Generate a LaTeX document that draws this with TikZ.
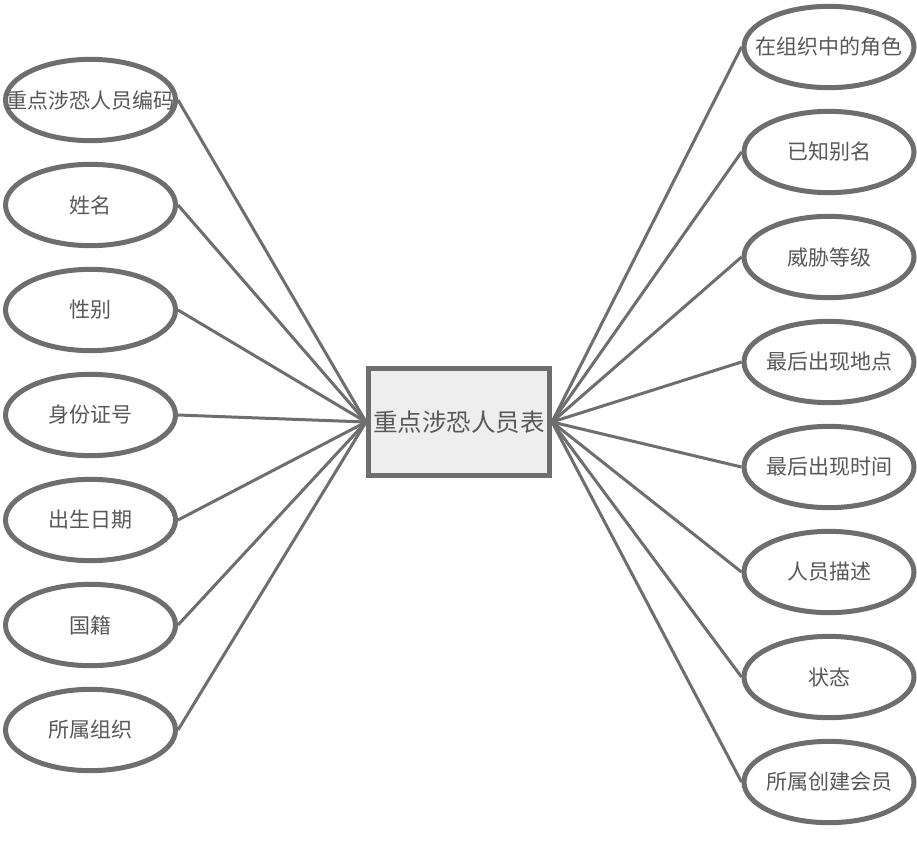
\documentclass[tikz,border=0pt]{standalone}
\usepackage{fontspec}
\setmainfont{Noto Sans CJK SC}
\usepackage{tikz}
\usetikzlibrary{
  calc,
  positioning,
  shapes,
  shapes.geometric,
}
\tikzstyle{attr} = [
  draw=edgegray,
  ellipse,
  line width=3.75pt,
  minimum width=127.5pt,
  minimum height=61pt,
  inner sep=0pt,
  fill=white,
  font=\fontsize{15.75pt}{18pt}\selectfont,
  text=textgray,
]
\tikzstyle{link} = [
  line width=2.25pt,
  edgegray,
]
\definecolor{edgegray}{RGB}{110, 110, 110}
\definecolor{textgray}{RGB}{88, 88, 88}
\definecolor{boxfill}{RGB}{238, 238, 238}

\begin{document}
\begin{tikzpicture}[x=0.75pt,y=-0.75pt]
        \useasboundingbox (0,0) rectangle (917,846);
        \node[draw=edgegray,rectangle,line width=3.75pt,minimum width=135.75pt,minimum height=80.25pt,fill=boxfill,text=textgray,font=\fontsize{18.4pt}{21pt}\selectfont]    (tbl) at (459,422)    {重点涉恐人员表};

        \node[attr]    (l1) at (90.5,100)    {\makebox[0pt]{重点涉恐人员编码}};
        \node[attr]    (l2) at (90.5,205)    {\makebox[0pt]{姓名}};
        \node[attr]    (l3) at (90.5,310)    {\makebox[0pt]{性别}};
        \node[attr]    (l4) at (90.5,415)    {\makebox[0pt]{身份证号}};
        \node[attr]    (l5) at (90.5,520)    {\makebox[0pt]{出生日期}};
        \node[attr]    (l6) at (90.5,625)    {\makebox[0pt]{国籍}};
        \node[attr]    (l7) at (90.5,730)    {\makebox[0pt]{所属组织}};

        \node[attr]    (r1) at (829,47)    {\makebox[0pt]{在组织中的角色}};
        \node[attr]    (r2) at (829,152)    {\makebox[0pt]{已知别名}};
        \node[attr]    (r3) at (829,257)    {\makebox[0pt]{威胁等级}};
        \node[attr]    (r4) at (829,362)    {\makebox[0pt]{最后出现地点}};
        \node[attr]    (r5) at (829,467)    {\makebox[0pt]{最后出现时间}};
        \node[attr]    (r6) at (829,572)    {\makebox[0pt]{人员描述}};
        \node[attr]    (r7) at (829,677)    {\makebox[0pt]{状态}};
        \node[attr]    (r8) at (829,782)    {\makebox[0pt]{所属创建会员}};

        \begin{scope}[on background layer/.try]
        \draw[link] (l1.east) -- (tbl.west);
        \draw[link] (l2.east) -- (tbl.west);
        \draw[link] (l3.east) -- (tbl.west);
        \draw[link] (l4.east) -- (tbl.west);
        \draw[link] (l5.east) -- (tbl.west);
        \draw[link] (l6.east) -- (tbl.west);
        \draw[link] (l7.east) -- (tbl.west);

        \draw[link] (r1.west) -- (tbl.east);
        \draw[link] (r2.west) -- (tbl.east);
        \draw[link] (r3.west) -- (tbl.east);
        \draw[link] (r4.west) -- (tbl.east);
        \draw[link] (r5.west) -- (tbl.east);
        \draw[link] (r6.west) -- (tbl.east);
        \draw[link] (r7.west) -- (tbl.east);
        \draw[link] (r8.west) -- (tbl.east);
        \end{scope}
    \end{tikzpicture}
\end{document}
